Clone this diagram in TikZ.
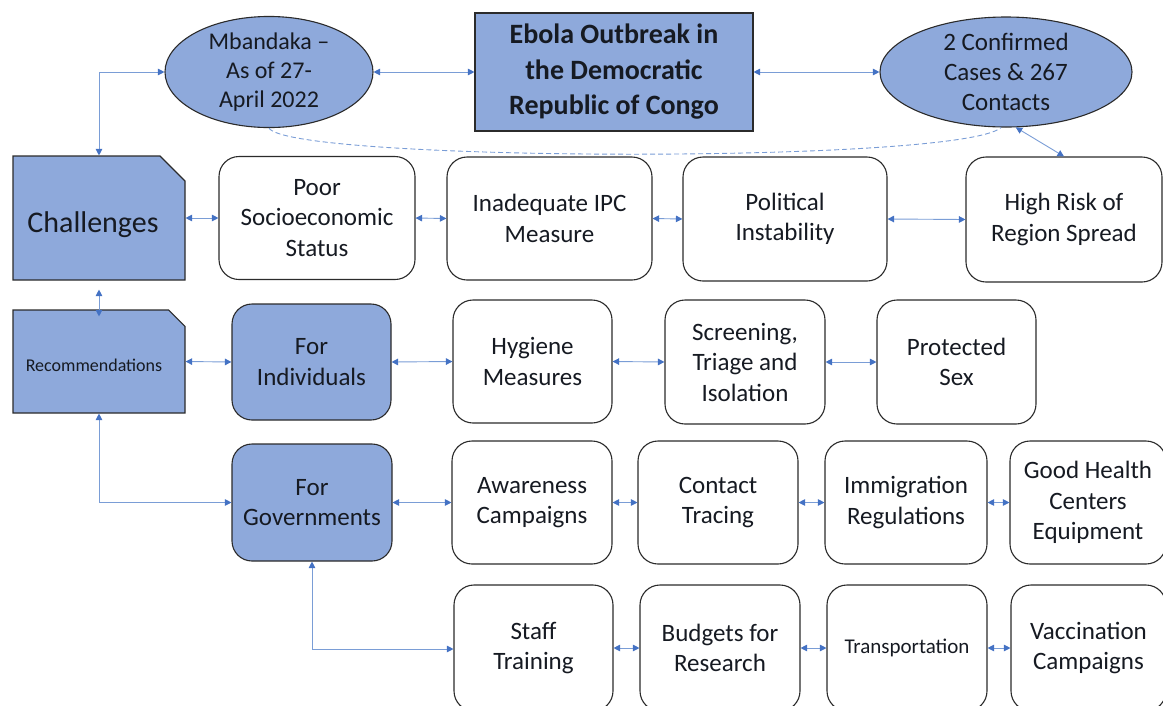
\documentclass[tikz,border=0pt]{standalone}
\usepackage{fontspec}
\setmainfont{Carlito}
\usetikzlibrary{arrows.meta,shapes.geometric,shapes.misc}
\definecolor{fillblue}{HTML}{8EA9DB}
\definecolor{lineblue}{HTML}{7A9DD6}
\definecolor{tipblue}{HTML}{4472C4}
\definecolor{edgecol}{HTML}{2B2B2B}
\definecolor{txt}{HTML}{161A22}
\begin{document}
\begin{tikzpicture}[x=1pt,y=-1pt,
  box/.style={draw=edgecol,line width=1.1pt,rounded corners=20pt,align=center,text=txt,
    font=\fontsize{25}{30.5}\selectfont,inner sep=0pt},
  wbox/.style={box,fill=white,minimum width=160pt,minimum height=123pt},
  bbox/.style={box,fill=fillblue},
  ell/.style={ellipse,draw=edgecol,line width=1.1pt,fill=fillblue,align=center,inner sep=0pt,
    text=txt,font=\fontsize{24}{29}\selectfont},
  snip/.style={chamfered rectangle,chamfered rectangle corners=north east,
    chamfered rectangle sep=12.5pt,draw=edgecol,line width=1.1pt,fill=fillblue,inner sep=0pt,
    text=txt,align=center},
  conn/.style={draw=lineblue,line width=0.9pt,
    {Triangle[length=6.5pt,width=6.5pt,color=tipblue]}-{Triangle[length=6.5pt,width=6.5pt,color=tipblue]}},
  dashlink/.style={draw=lineblue,line width=0.9pt,dash pattern=on 5pt off 3pt}
]
\useasboundingbox (0,0) rectangle (1163,705);
\clip (0,0) rectangle (1163,705);

% top row
\node[ell,minimum width=208pt,minimum height=100pt] (mb) at (269,72) {Mbandaka --\\As of 27-\\April 2022};
\node[draw=edgecol,line width=1.1pt,fill=fillblue,align=center,text=txt,inner sep=0pt,
  minimum width=278pt,minimum height=118pt,font=\bfseries\fontsize{28}{35.5}\selectfont] (eb) at (614,72)
  {Ebola Outbreak in\\the Democratic\\Republic of Congo};
\node[ell,minimum width=252pt,minimum height=110pt,font=\fontsize{25}{30}\selectfont] (cc) at (1006,72) {2 Confirmed\\Cases \& 267\\Contacts};

% challenges row
\node[snip,minimum width=172pt,minimum height=124pt,font=\fontsize{30}{36}\selectfont] (ch) at (99,218) {\raisebox{-7pt}[\height][\depth]{Challenges}\hspace*{12pt}};
\node[wbox,minimum width=196pt] (poor) at (317,218) {Poor\\Socioeconomic\\Status};
\node[wbox,minimum width=205pt] (ipc) at (549.5,218.5) {Inadequate IPC\\Measure};
\node[wbox,minimum width=204pt,minimum height=124pt] (pol) at (785,219) {Political\\Instability};
\node[wbox,minimum width=196pt,minimum height=125pt] (hr) at (1064,219.5) {High Risk of\\Region Spread};

% individuals row
\node[snip,minimum width=172pt,minimum height=103pt,chamfered rectangle sep=10pt,font=\fontsize{18}{22}\selectfont] (rec) at (99,361.5) {\raisebox{-4pt}[\height][\depth]{Recommendations}\hspace*{10pt}};
\node[bbox,minimum width=159pt,minimum height=116pt] (ind) at (311.5,362) {For\\Individuals};
\node[wbox,minimum width=159pt] (hyg) at (532.5,361.5) {Hygiene\\Measures};
\node[wbox,minimum height=124pt] (scr) at (745,362) {Screening,\\Triage and\\Isolation};
\node[wbox,minimum width=159pt,minimum height=124pt] (prot) at (956.5,362) {Protected\\Sex};

% governments row
\node[bbox,minimum width=160pt,minimum height=117pt] (gov) at (312,502.5) {For\\Governments};
\node[wbox] (awa) at (532,502.5) {Awareness\\Campaigns};
\node[wbox] (ctr) at (718,502.5) {Contact\\Tracing};
\node[wbox,minimum width=162pt] (imm) at (906,502.5) {Immigration\\Regulations};
\node[wbox,minimum width=156pt] (good) at (1088,502.5) {Good Health\\Centers\\Equipment};

% bottom row
\node[wbox,minimum width=159pt,minimum height=126pt] (staff) at (533.5,648) {Staff\\Training};
\node[wbox,minimum height=126pt] (bud) at (720,648) {Budgets for\\Research};
\node[wbox,minimum height=126pt,font=\fontsize{21}{25}\selectfont] (tra) at (907,648) {Transportation};
\node[wbox,minimum width=155pt,minimum height=126pt] (vac) at (1088.5,648) {Vaccination\\Campaigns};

% connectors
\draw[conn] (ch.north) |- (mb.west);
\draw[conn] (mb.east) -- (eb.west);
\draw[conn] (eb.east) -- (cc.west);
\draw[conn] (cc.-80) -- (hr.north);
\draw[dashlink] (mb.south) .. controls (290,162) and (960,164) .. (cc.-95);

\draw[conn] (ch.east) -- (poor.west);
\draw[conn] (poor.east) -- (ipc.west);
\draw[conn] (ipc.east) -- (pol.west);
\draw[conn] (pol.east) -- (hr.west);

\draw[conn,shorten <=9pt,shorten >=-7pt] (ch.south) -- (rec.north);
\draw[conn] (rec.east) -- (ind.west);
\draw[conn] (ind.east) -- (hyg.west);
\draw[conn] (hyg.east) -- (scr.west);
\draw[conn] (scr.east) -- (prot.west);

\draw[conn] (rec.south) |- (gov.west);
\draw[conn] (gov.east) -- (awa.west);
\draw[conn] (awa.east) -- (ctr.west);
\draw[conn] (ctr.east) -- (imm.west);
\draw[conn] (imm.east) -- (good.west);

\draw[conn] (gov.south) |- ([yshift=-1pt]staff.west);
\draw[conn] (staff.east) -- (bud.west);
\draw[conn] (bud.east) -- (tra.west);
\draw[conn] (tra.east) -- (vac.west);
\end{tikzpicture}
\end{document}
